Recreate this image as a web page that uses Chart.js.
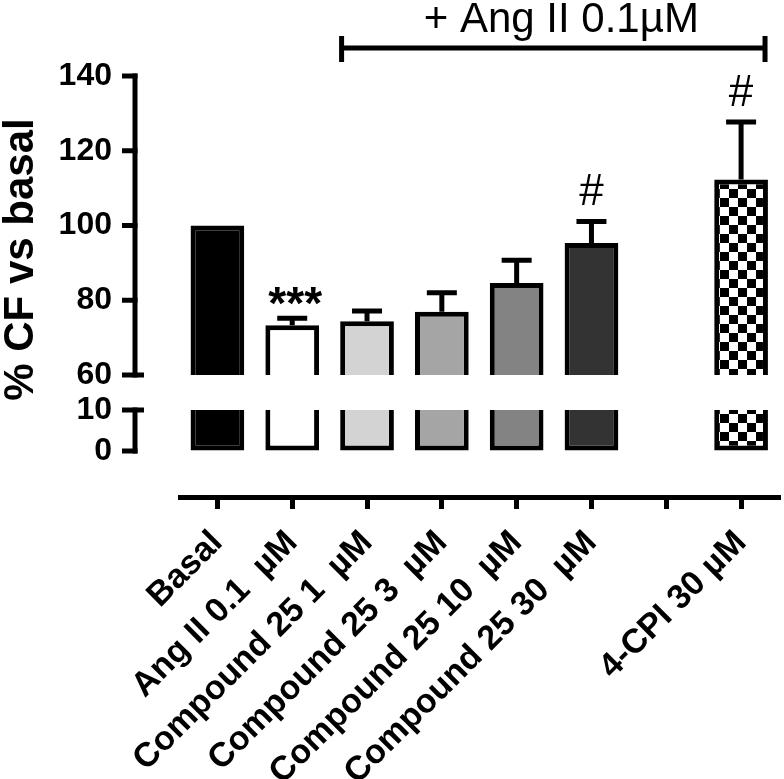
<!DOCTYPE html>
<html>
<head>
<meta charset="utf-8">
<script src="https://cdn.jsdelivr.net/npm/chart.js@4.4.1/dist/chart.umd.min.js"></script>
<style>
html,body{margin:0;padding:0;background:#fff;}
#wrap{width:784px;height:779px;position:relative;}
</style>
</head>
<body>
<div id="wrap"><canvas id="cfChart"></canvas></div>
<script>
// groups on the x axis, the empty one is the gap before 4-CPI
var groups = ["Basal", "Ang II 0.1  µM", "Compound 25 1  µM", "Compound 25 3  µM", "Compound 25 10  µM", "Compound 25 30  µM", "", "4-CPI 30 µM"];
// % CF vs basal, mean and sem
var cfMean = [100, 73.3, 74.4, 76.9, 84.6, 95.3, null, 112.3];
var cfSem = [0, 1.9, 2.7, 5.1, 6.1, 5.8, null, 15.4];
var marks = ["", "***", "", "", "", "#", "", "#"];
var upperTicks = [60, 80, 100, 120, 140];
var lowerTicks = [0, 10];
var bracketText = "+ Ang II 0.1\u00b5M";
var yTitle = "% CF vs basal";

var FONT = "'Liberation Sans', Arial, sans-serif";
Chart.defaults.font.family = FONT;
Chart.defaults.color = "#000";

//checkerboard fill for 4-CPI
function checker(){
	var c = document.createElement("canvas");
	c.width = 18; c.height = 18;
	var g = c.getContext("2d");
	g.fillStyle = "#fff"; g.fillRect(0, 0, 18, 18);
	g.fillStyle = "#000"; g.fillRect(0, 0, 9, 9); g.fillRect(9, 9, 9, 9);
	return g.createPattern(c, "repeat");
}
var barColors = ["#000000", "#ffffff", "#d3d3d3", "#a5a5a5", "#838383", "#333333", "#ffffff", checker()];

var upperData = cfMean.map(function(v){ return v == null ? null : [upperTicks[0], v]; });
var lowerData = cfMean.map(function(v){ return v == null ? null : [lowerTicks[0], Math.min(v, lowerTicks[1])]; });

var decor = {
	id: "decor",
	afterDatasetsDraw: function(chart){
		var ctx = chart.ctx, x = chart.scales.x, yT = chart.scales.yTop, yB = chart.scales.yBot;
		var axisX = chart.chartArea.left - 45;
		var topPx = yT.getPixelForValue(upperTicks[upperTicks.length - 1]);
		ctx.save();
		ctx.strokeStyle = "#000"; ctx.fillStyle = "#000"; ctx.lineWidth = 5;
		//broken y axis
		function seg(scale, ticks, breakTick){
			ctx.beginPath();
			ctx.moveTo(axisX, scale.getPixelForValue(ticks[0]) + 2.5);
			ctx.lineTo(axisX, scale.getPixelForValue(ticks[ticks.length - 1]) - 2.5);
			ctx.stroke();
			ticks.forEach(function(t){
				var py = scale.getPixelForValue(t);
				ctx.beginPath();
				ctx.moveTo(axisX - 13, py);
				ctx.lineTo(t === breakTick ? axisX + 9 : axisX + 2.5, py);
				ctx.stroke();
			});
		}
		seg(yT, upperTicks, upperTicks[0]);
		seg(yB, lowerTicks, lowerTicks[lowerTicks.length - 1]);

		//error bars + significance marks
		cfMean.forEach(function(m, i){
			if (m == null) return;
			var px = x.getPixelForValue(i);
			var top = yT.getPixelForValue(m + (cfSem[i] || 0));
			if (cfSem[i]) {
				ctx.beginPath();
				ctx.moveTo(px, yT.getPixelForValue(m));
				ctx.lineTo(px, top);
				ctx.moveTo(px - 15, top);
				ctx.lineTo(px + 15, top);
				ctx.stroke();
			}
			if (marks[i]) {
				ctx.textAlign = "center";
				ctx.textBaseline = "alphabetic";
				if (marks[i] === "#") {
					ctx.font = "44px " + FONT;
					ctx.fillText(marks[i], px, top - 16);
				} else {
					ctx.font = "bold 46px " + FONT;
					ctx.fillText(marks[i], px + 3, top + 1);
				}
			}
		});

		//+ Ang II bracket
		var step = x.getPixelForValue(1) - x.getPixelForValue(0);
		var bx1 = x.getPixelForValue(1) + 0.66 * step, bx2 = x.getPixelForValue(7) + 0.32 * step;
		var by = topPx - 28;
		ctx.beginPath();
		ctx.moveTo(bx1, by); ctx.lineTo(bx2, by);
		ctx.moveTo(bx1, by - 12); ctx.lineTo(bx1, by + 14);
		ctx.moveTo(bx2, by - 12); ctx.lineTo(bx2, by + 14);
		ctx.stroke();
		ctx.font = "42px " + FONT;
		ctx.textAlign = "center";
		ctx.textBaseline = "alphabetic";
		ctx.fillText(bracketText, (bx1 + bx2) / 2 + 8, by - 16);

		//y title
		ctx.translate(33, (topPx + yB.getPixelForValue(0)) / 2 - 4);
		ctx.rotate(-Math.PI / 2);
		ctx.font = "bold 42px " + FONT;
		ctx.fillText(yTitle, 0, 0);
		ctx.restore();
	}
};

//invisible tick marks push the labels left without adding top padding
function yScale(ticks, min, max, weight){
	return {
		position: "left", stack: "y", stackWeight: weight,
		min: min, max: max,
		grid: {display: true, drawOnChartArea: false, drawTicks: true, tickLength: 66, color: "rgba(0,0,0,0)"},
		border: {display: false},
		ticks: {padding: 2, font: {size: 32, weight: "bold"}},
		afterBuildTicks: function(s){ s.ticks = ticks.map(function(v){ return {value: v}; }); },
		afterFit: function(s){ s.width = 180; }
	};
}

var chart = new Chart(document.getElementById("cfChart").getContext("2d"), {
	type: "bar",
	data: {
		labels: groups,
		datasets: [
			{
				data: upperData, yAxisID: "yTop",
				backgroundColor: barColors, borderColor: "#000", borderWidth: 5,
				borderSkipped: "bottom", grouped: false,
				barPercentage: 0.718, categoryPercentage: 1
			},
			{
				data: lowerData, yAxisID: "yBot",
				backgroundColor: barColors, borderColor: "#000", borderWidth: 5,
				borderSkipped: "top", grouped: false,
				barPercentage: 0.718, categoryPercentage: 1
			}
		]
	},
	options: {
		responsive: true,
		maintainAspectRatio: false,
		animation: false,
		layout: {padding: {top: 76, right: 1, left: 0, bottom: 0}},
		plugins: {legend: {display: false}, tooltip: {enabled: false}},
		scales: {
			x: {
				offset: true,
				grid: {drawOnChartArea: false, drawTicks: true, tickLength: 12, lineWidth: 5, color: "#000", offset: false},
				border: {display: true, width: 5, color: "#000"},
				ticks: {autoSkip: false, maxRotation: 45, minRotation: 45, padding: 14, font: {size: 34, weight: "bold"}},
				afterFit: function(s){ s.height = 282; }
			},
			// stacked bottom-up: lower segment listed first
			yBot: yScale(lowerTicks, -11.22, 14.39, 105),
			yTop: yScale(upperTicks, 55.45, 140, 316)
		}
	},
	plugins: [decor]
});
</script>
</body>
</html>
